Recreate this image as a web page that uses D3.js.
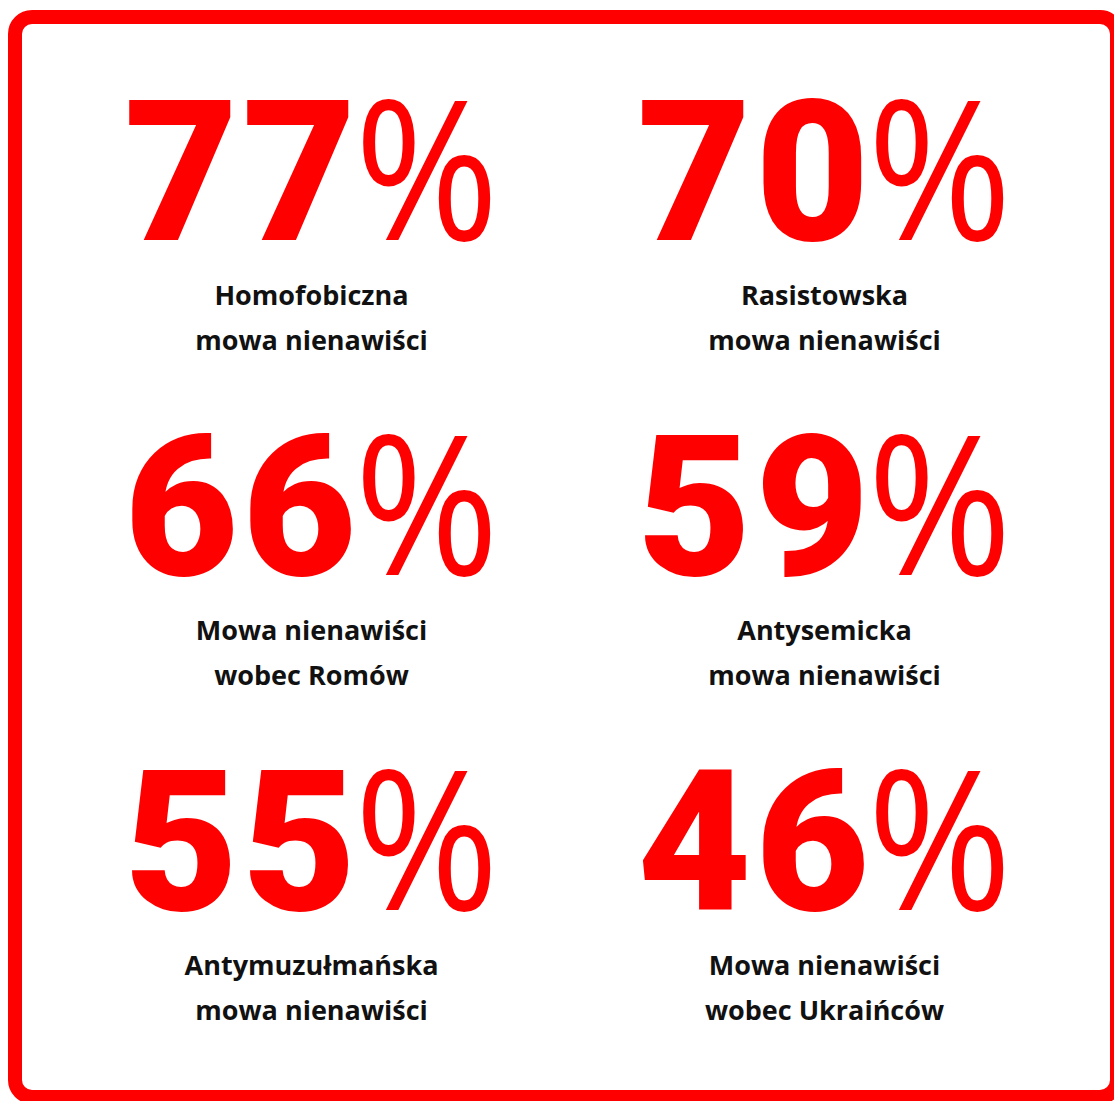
<!DOCTYPE html>
<html>
<head>
<meta charset="utf-8">
<script src="https://cdn.jsdelivr.net/npm/d3@7"></script>
<style>
  body { margin: 0; background: #fff; }
</style>
</head>
<body>
<svg id="chart" width="1114" height="1101"></svg>
<script>
// values (percent)
const values = [77, 70, 66, 59, 55, 46];
const labelTop = [
  "Homofobiczna", "Rasistowska",
  "Mowa nienawiści", "Antysemicka",
  "Antymuzułmańska", "Mowa nienawiści"
];
const labelBottom = [
  "mowa nienawiści", "mowa nienawiści",
  "wobec Romów", "mowa nienawiści",
  "mowa nienawiści", "wobec Ukraińców"
];

const width = 1114;
const height = 1101;
const red = "#ff0000";

const svg = d3.select("#chart");

svg.append("rect")
  .attr("width", width)
  .attr("height", height)
  .attr("fill", "#fff");

// frame (runs off the right and bottom edge like the original)
svg.append("rect")
  .attr("x", 15)
  .attr("y", 17)
  .attr("width", 1102)
  .attr("height", 1080)
  .attr("rx", 17)
  .attr("fill", "none")
  .attr("stroke", red)
  .attr("stroke-width", 14);

const cells = values.map((v, i) => ({
  value: v,
  top: labelTop[i],
  bottom: labelBottom[i],
  col: i % 2,
  row: Math.floor(i / 2)
}));

// grid scales
const x = d3.scaleBand().domain([0, 1]).range([55, 1081]);
const y = d3.scalePoint().domain([0, 1, 2]).range([240, 910]);

const g = svg.append("g")
  .selectAll("g")
  .data(cells)
  .join("g")
  .attr("transform", d => `translate(${x(d.col) + x.bandwidth() / 2},${y(d.row)})`);

// digits: heavy; percent sign: thin and a bit condensed
const pctScale = 0.9;
const gap = -6;

const digits = g.append("text")
  .attr("fill", red)
  .attr("font-family", "Roboto, sans-serif")
  .attr("font-size", 197)
  .attr("font-weight", 900)
  .attr("letter-spacing", 4)
  .text(d => d.value);

const pct = g.append("text")
  .attr("fill", red)
  .attr("font-family", "'Open Sans', sans-serif")
  .attr("font-size", 194)
  .attr("font-weight", 400)
  .text("%");

const pctW = pct.node().getComputedTextLength() * pctScale;

digits.each(function () {
  const w = this.getComputedTextLength();
  const total = w + gap + pctW;
  const x0 = -total / 2;
  d3.select(this).attr("x", x0);
  d3.select(this.parentNode).select("text:nth-of-type(2)")
    .attr("transform", `translate(${x0 + w + gap},0) scale(${pctScale},1)`);
});

const labels = g.append("text")
  .attr("text-anchor", "middle")
  .attr("fill", "#111")
  .attr("font-family", "'Open Sans', 'Noto Sans', sans-serif")
  .attr("font-weight", 700)
  .attr("font-size", 27);

labels.append("tspan")
  .attr("x", 0)
  .attr("y", 65)
  .text(d => d.top);

labels.append("tspan")
  .attr("x", 0)
  .attr("y", 110)
  .text(d => d.bottom);
</script>
</body>
</html>
